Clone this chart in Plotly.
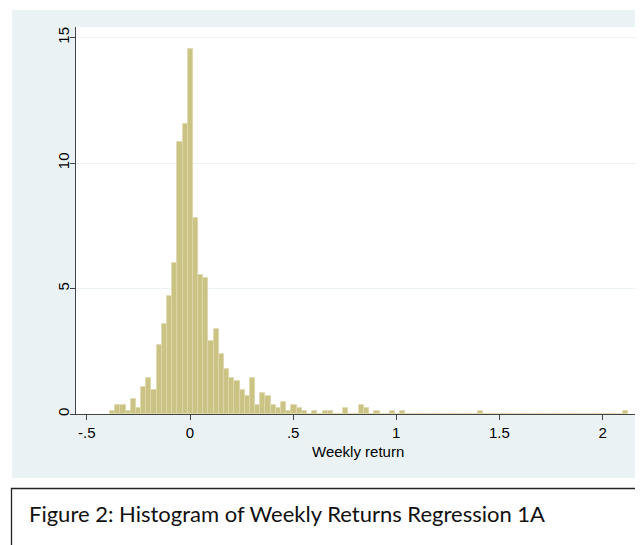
import plotly.graph_objects as go

# ---- data ----
bin_start = -0.388
bin_width = 0.02513
density = [
    0.10, 0.35, 0.35, 0.10, 0.58, 0.22, 1.07, 1.45, 0.95, 2.76,
    3.60, 4.69, 6.02, 10.84, 11.54, 14.55, 7.81, 5.53, 5.41, 2.89,
    3.37, 2.41, 1.79, 1.44, 1.32, 0.96, 0.71, 1.44, 0.35, 0.83,
    0.71, 0.35, 0.22, 0.47, 0.11, 0.35, 0.22, 0.10, 0.00, 0.10,
    0.00, 0.10, 0.10, 0.00, 0.00, 0.22, 0.00, 0.00, 0.35, 0.22,
    0.00, 0.10, 0.00, 0.00, 0.10, 0.00, 0.10, 0.00, 0.00, 0.00,
    0.00, 0.00, 0.00, 0.00, 0.00, 0.00, 0.00, 0.00, 0.00, 0.00,
    0.00, 0.10, 0.00, 0.00, 0.00, 0.00, 0.00, 0.00, 0.00, 0.00,
    0.00, 0.00, 0.00, 0.00, 0.00, 0.00, 0.00, 0.00, 0.00, 0.00,
    0.00, 0.00, 0.00, 0.00, 0.00, 0.00, 0.00, 0.00, 0.00, 0.10,
]
x_tick_vals = [-0.5, 0, 0.5, 1, 1.5, 2]
x_tick_text = ["-.5", "0", ".5", "1", "1.5", "2"]
y_tick_vals = [0, 5, 10, 15]
y_tick_text = ["0", "5", "10", "15"]
x_title = "Weekly return"
caption = "Figure 2: Histogram of Weekly Returns Regression 1A"

bin_centers = [bin_start + (i + 0.5) * bin_width for i in range(len(density))]

# ---- layout geometry (page pixels; the page body has an 8px margin) ----
OFF = 8
W, H = 643 - OFF, 545 - OFF
PL, PR, PT, PB = 76, 639, 27, 414          # plot box in page pixels
L, R, T, B = PL - OFF, W - (PR - OFF), PT - OFF, H - (PB - OFF)
pw, ph = W - L - R, H - T - B


def px(X):
    return (X - OFF - L) / pw


def py(Y):
    return (H - B - (Y - OFF)) / ph


panel_color = "#EAF2F3"

fig = go.Figure()
fig.add_trace(go.Bar(
    x=bin_centers, y=density, width=bin_width,
    marker=dict(color="#CBC383", line=dict(color="#DDD8AA", width=0.8)),
    hoverinfo="x+y",
))

shapes = [
    dict(type="rect", xref="paper", yref="paper", layer="below",
         x0=px(12), x1=px(660), y0=py(478), y1=py(10),
         fillcolor=panel_color, line=dict(width=0)),
    dict(type="rect", xref="paper", yref="paper", layer="below",
         x0=0, x1=1, y0=0, y1=1, fillcolor="white", line=dict(width=0)),
    dict(type="rect", xref="paper", yref="paper", layer="above",
         x0=px(11.5), x1=px(670), y0=py(580), y1=py(488.5),
         fillcolor="rgba(0,0,0,0)", line=dict(color="#222222", width=1.3)),
]

fig.update_layout(
    width=W, height=H,
    margin=dict(l=L, r=R, t=T, b=B, pad=0),
    paper_bgcolor="white", plot_bgcolor="white",
    showlegend=False, bargap=0,
    font=dict(family="Arial, Liberation Sans, sans-serif", color="#000000", size=15),
    shapes=shapes,
    annotations=[
        dict(text=caption, xref="paper", yref="paper", x=px(27), y=py(514),
             xanchor="left", yanchor="middle", showarrow=False,
             font=dict(family="Lato, Open Sans, sans-serif", size=22, color="#111111")),
        dict(text=x_title, xref="paper", yref="paper", x=0.5, y=py(451),
             xanchor="center", yanchor="middle", showarrow=False,
             font=dict(size=15, color="#000000")),
    ],
    xaxis=dict(
        range=[-0.5526, 2.1765], tickvals=x_tick_vals, ticktext=x_tick_text,
        showgrid=False, zeroline=False, showline=True, linecolor="#444444",
        linewidth=1.2, ticks="outside", ticklen=5, tickcolor="#444444",
        tickfont=dict(size=15, color="#000000"),
    ),
    yaxis=dict(
        range=[0, 15.42], tickvals=y_tick_vals, ticktext=y_tick_text,
        showgrid=True, gridcolor=panel_color, gridwidth=1.2, zeroline=False,
        showline=True, linecolor="#444444", linewidth=1.2,
        ticks="outside", ticklen=5, tickcolor="#444444", tickangle=-90,
        ticklabelstandoff=-5,
        tickfont=dict(size=15, color="#000000"),
    ),
)

fig.write_html("out.html")
